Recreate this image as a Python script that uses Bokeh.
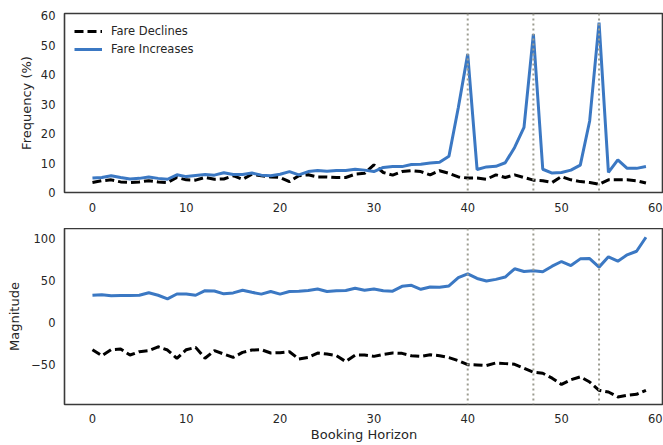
from bokeh.plotting import figure
from bokeh.layouts import column
from bokeh.models import Range1d, Span, FixedTicker, ColumnDataSource
from bokeh.embed import file_html
from bokeh.resources import INLINE

# ---- data ----
horizon = list(range(60))

freq_declines = [3.4, 4.0, 4.3, 3.6, 3.4, 3.6, 4.0, 3.6, 3.4, 5.1,
                 4.3, 4.2, 5.1, 4.5, 4.6, 5.7, 4.5, 6.2, 5.7, 5.3,
                 5.1, 3.7, 5.7, 6.0, 5.3, 5.3, 5.1, 5.1, 6.2, 6.5,
                 9.4, 6.8, 5.9, 7.1, 7.4, 7.1, 6.0, 7.4, 6.5, 5.3,
                 4.9, 4.9, 4.5, 6.0, 5.1, 6.0, 5.1, 4.2, 4.0, 3.4,
                 5.4, 4.3, 3.7, 3.4, 2.8, 4.3, 4.3, 4.3, 4.0, 3.2]

freq_increases = [4.9, 5.1, 5.7, 5.1, 4.6, 4.8, 5.3, 4.8, 4.5, 6.0,
                  5.4, 5.8, 6.1, 5.9, 6.7, 6.1, 6.1, 6.6, 5.9, 5.7,
                  6.2, 7.1, 6.0, 7.1, 7.5, 7.2, 7.5, 7.5, 7.9, 7.6,
                  7.1, 8.5, 8.8, 8.8, 9.5, 9.6, 10.0, 10.3, 12.3, 28.9,
                  47.0, 7.8, 8.7, 8.9, 10.1, 15.3, 22.1, 53.8, 7.9, 6.6,
                  6.8, 7.6, 9.3, 24.3, 57.7, 6.8, 11.1, 8.2, 8.2, 8.8]

mag_declines = [-32.8, -40.0, -32.8, -32.0, -39.2, -35.2, -34.0, -29.3, -33.2, -43.1,
                -32.8, -30.0, -43.1, -34.0, -38.0, -42.0, -36.0, -33.2, -32.8, -36.8,
                -36.4, -35.2, -43.9, -42.0, -36.8, -38.0, -40.0, -47.0, -39.2, -39.2,
                -40.8, -38.4, -36.8, -37.2, -40.0, -40.8, -38.8, -40.0, -42.3, -45.9,
                -50.7, -51.0, -51.8, -48.7, -49.5, -50.3, -55.0, -59.8, -61.0, -66.9,
                -74.4, -68.9, -65.3, -71.6, -81.5, -83.5, -89.4, -87.5, -86.3, -81.5]

mag_increases = [32.5, 33.2, 32.0, 32.2, 32.2, 32.5, 35.5, 32.5, 28.2, 34.0,
                 34.0, 32.5, 38.0, 37.6, 34.2, 35.3, 38.4, 36.0, 33.8, 37.0,
                 33.8, 37.0, 37.4, 38.2, 40.0, 37.0, 37.8, 38.2, 40.8, 38.4,
                 40.0, 37.8, 37.4, 43.2, 44.4, 39.6, 42.4, 42.0, 43.6, 53.5,
                 58.2, 52.6, 49.5, 51.5, 54.3, 64.2, 61.0, 61.8, 60.6, 67.3,
                 72.9, 68.1, 76.1, 76.5, 66.2, 78.5, 73.3, 80.9, 85.2, 102.0]

event_days = [40, 47, 54]

x_ticks = [0, 10, 20, 30, 40, 50, 60]
freq_ticks = [0, 10, 20, 30, 40, 50, 60]
mag_ticks = [-50, 0, 50, 100]

BLUE = "#3b78c3"
TEXT = "#262626"
FONT = "DejaVu Sans"

src = ColumnDataSource(dict(x=horizon, fd=freq_declines, fi=freq_increases,
                            md=mag_declines, mi=mag_increases))


def style(p, yticks):
    p.outline_line_color = "#3a3a3a"
    p.outline_line_width = 1.6
    p.xgrid.visible = False
    p.ygrid.visible = False
    p.background_fill_color = "white"
    p.border_fill_color = "white"
    p.xaxis.ticker = FixedTicker(ticks=x_ticks)
    p.yaxis.ticker = FixedTicker(ticks=yticks)
    for ax in (p.xaxis, p.yaxis):
        ax.axis_line_color = None
        ax.major_tick_line_color = None
        ax.minor_tick_line_color = None
        ax.major_tick_out = 0
        ax.major_tick_in = 0
        ax.minor_tick_out = 0
        ax.major_label_text_font = FONT
        ax.major_label_text_font_size = "11.5px"
        ax.major_label_text_color = TEXT
        ax.axis_label_text_font = FONT
        ax.axis_label_text_font_size = "13px"
        ax.axis_label_text_font_style = "normal"
        ax.axis_label_text_color = TEXT
    p.xaxis.major_label_standoff = 10
    p.yaxis.major_label_standoff = 9
    for d in event_days:
        p.add_layout(Span(location=d, dimension="height", line_color="#9c9c90",
                          line_width=2, line_dash="2 3"))


x_lo, x_hi = -2.98, 60.87

p1 = figure(width=663, height=228, output_backend="svg", toolbar_location=None,
            x_range=Range1d(x_lo, x_hi), y_range=Range1d(0, 60.8),
            min_border_left=64, min_border_right=0, min_border_top=13,
            min_border_bottom=36)
style(p1, freq_ticks)
p1.yaxis.axis_label = "Frequency (%)"
p1.yaxis.axis_label_standoff = 4
p1.line("x", "fd", source=src, line_color="black", line_width=3,
        line_dash="9 4", legend_label="Fare Declines")
p1.line("x", "fi", source=src, line_color=BLUE, line_width=3,
        legend_label="Fare Increases")
lg = p1.legend[0]
lg.location = "top_left"
lg.border_line_color = None
lg.background_fill_alpha = 0
lg.margin = 10
lg.padding = 2
lg.spacing = 2
lg.glyph_width = 28
lg.glyph_height = 16
lg.label_height = 16
lg.label_standoff = 9
lg.label_text_font = FONT
lg.label_text_font_size = "11.5px"
lg.label_text_color = TEXT

p2 = figure(width=663, height=216, output_backend="svg", toolbar_location=None,
            x_range=Range1d(x_lo, x_hi), y_range=Range1d(-98.5, 112.5),
            min_border_left=64, min_border_right=0, min_border_top=0,
            min_border_bottom=37)
style(p2, mag_ticks)
p2.yaxis.axis_label = "Magnitude"
p2.yaxis.axis_label_standoff = 6
p2.yaxis.major_label_overrides = {-50: "\u221250"}
p2.xaxis.axis_label = "Booking Horizon"
p2.xaxis.axis_label_standoff = 1
p2.xaxis.major_label_standoff = 9
p2.line("x", "md", source=src, line_color="black", line_width=3, line_dash="9 4")
p2.line("x", "mi", source=src, line_color=BLUE, line_width=3)

layout = column(p1, p2, spacing=0)

open("out.html", "w").write(file_html(layout, INLINE))
